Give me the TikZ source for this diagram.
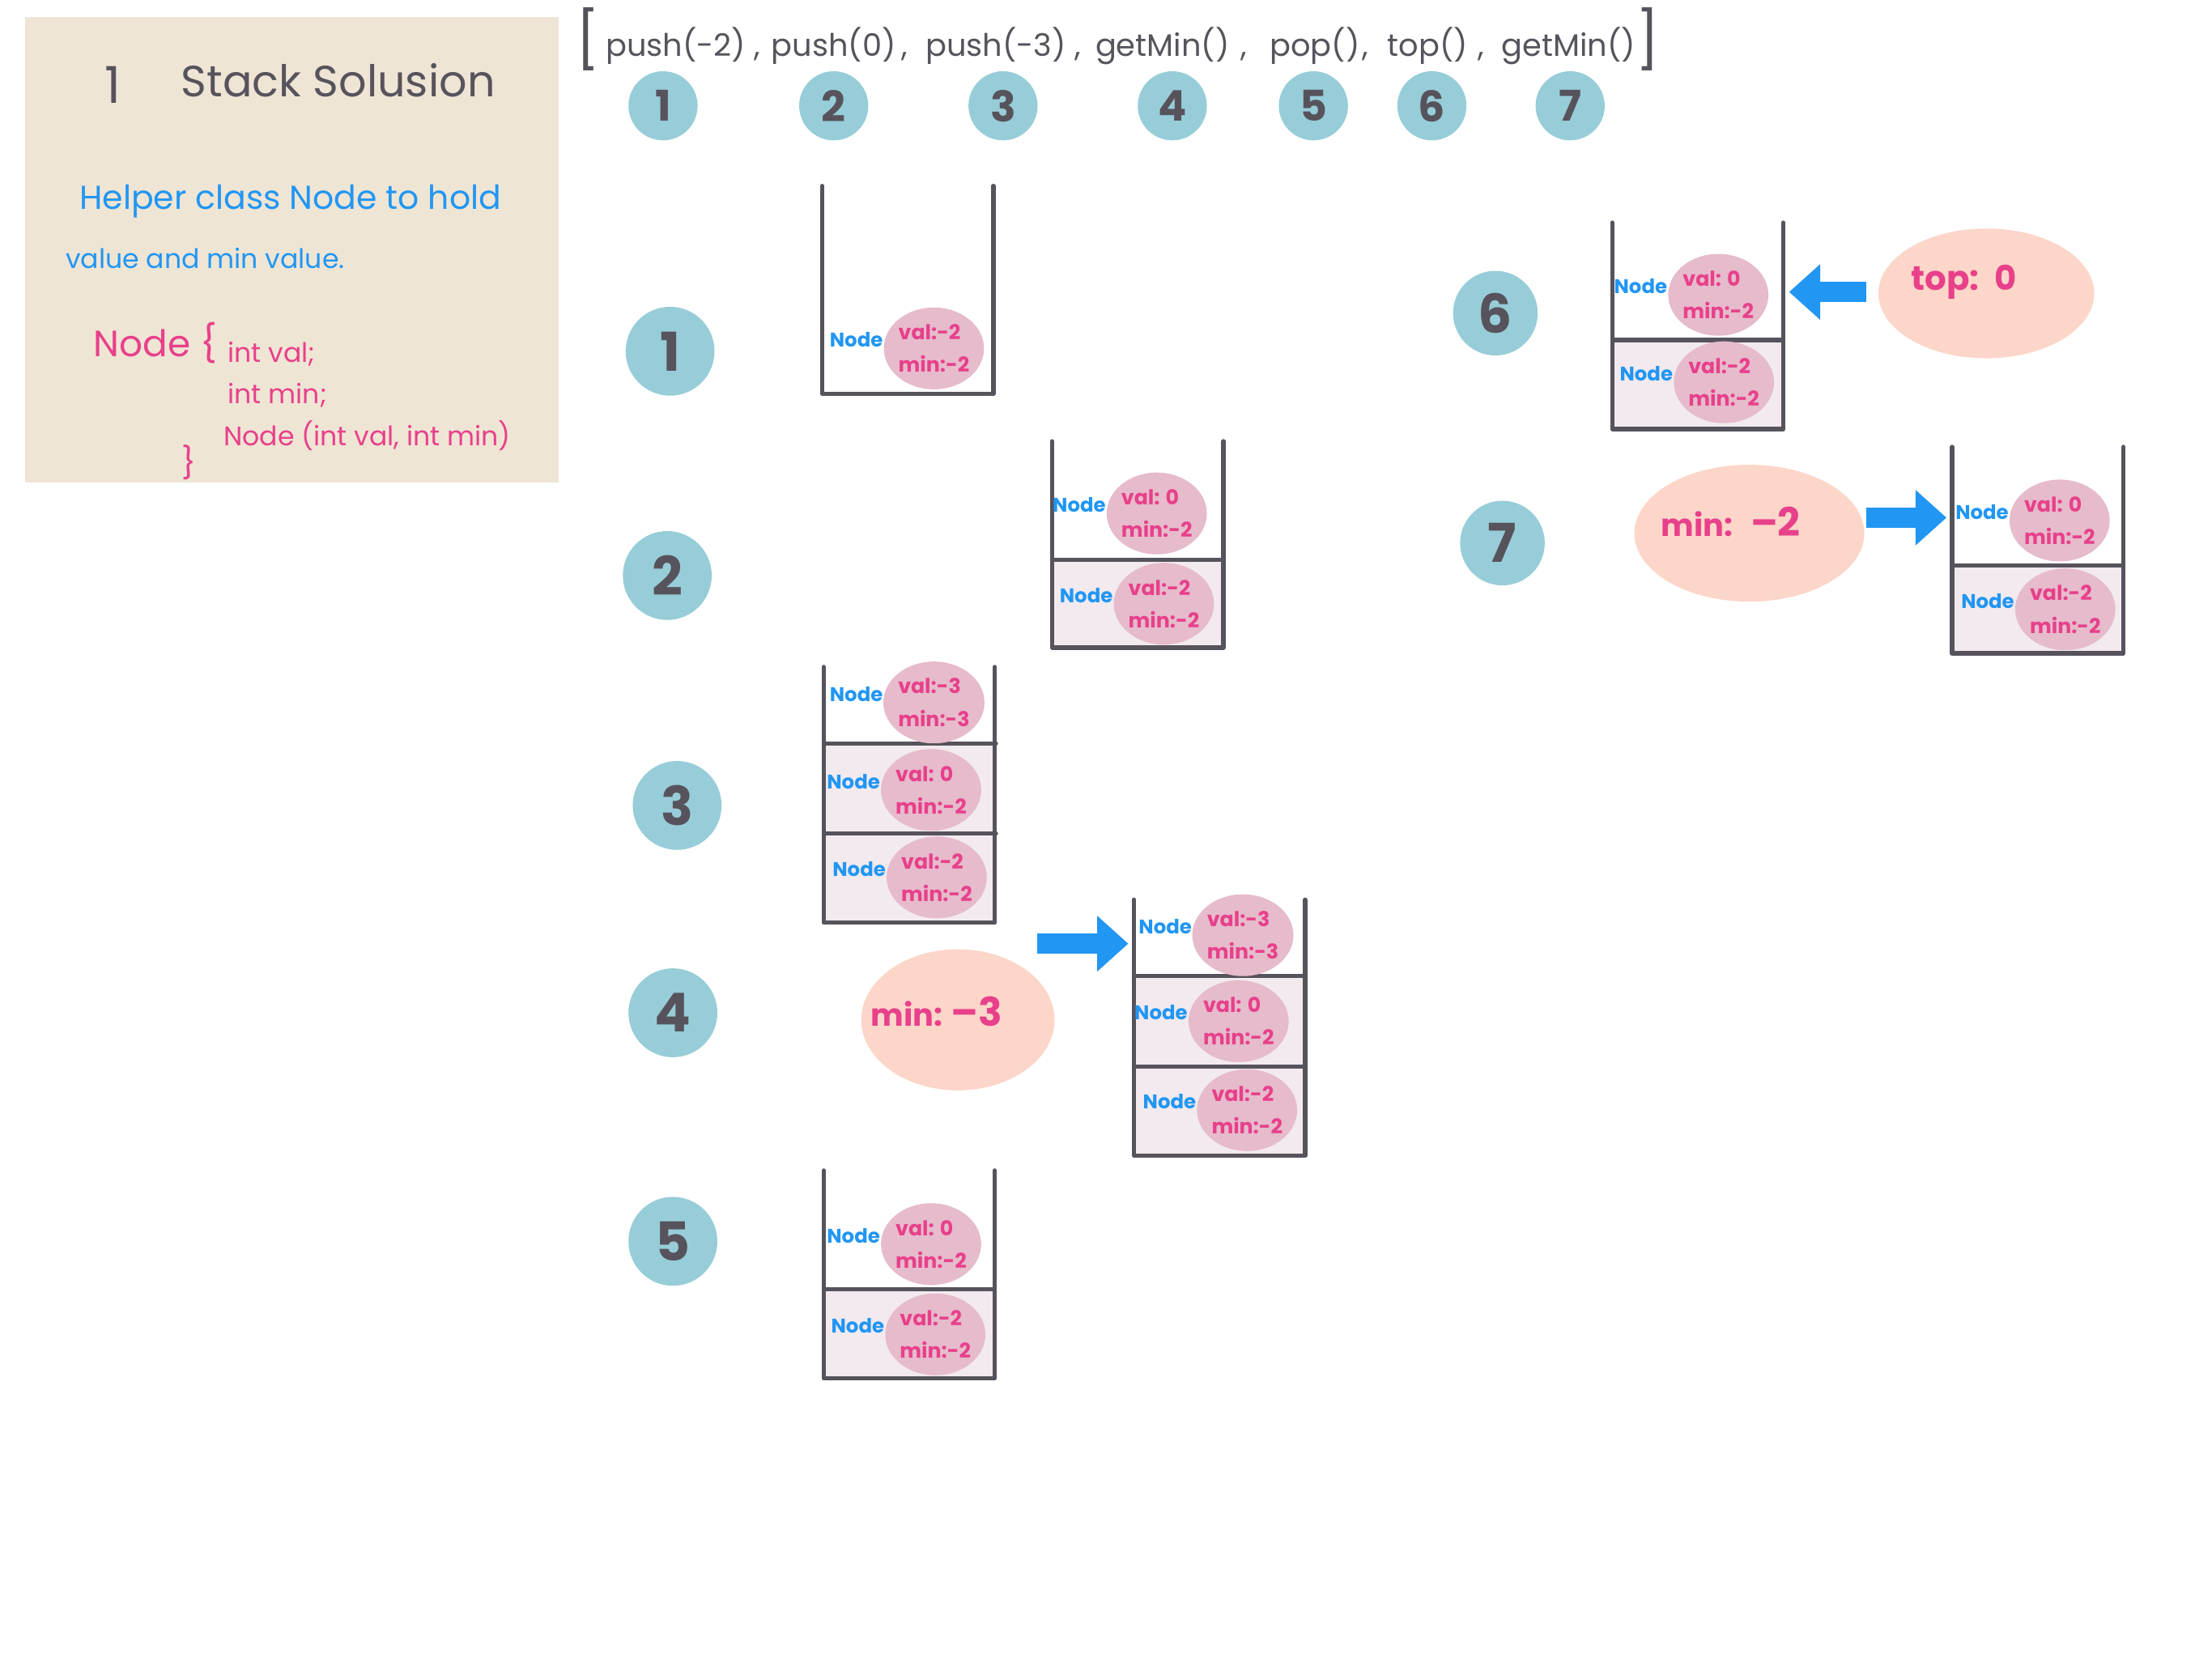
\documentclass[tikz,border=0pt]{standalone}
\usepackage{fontspec}
\setmainfont{Poppins}
\usetikzlibrary{shapes.geometric,arrows.meta}

\definecolor{inkgray}{HTML}{57535C}
\definecolor{notebg}{HTML}{EFE5D5}
\definecolor{numteal}{HTML}{97CDD8}
\definecolor{penblue}{HTML}{2196F3}
\definecolor{penpink}{HTML}{E8408A}
\definecolor{blobpink}{HTML}{E6BBCC}
\definecolor{cellshade}{HTML}{F2EAEE}
\definecolor{salmon}{HTML}{FCD6C9}

\tikzset{
    stackline/.style={line width=3pt, draw=inkgray, line cap=round, line join=round},
    stackarea/.style={inner sep=0pt, minimum width=121pt},
    blob/.style={ellipse, fill=blobpink, inner sep=0pt, minimum width=70pt, minimum height=58pt,
        text=penpink, align=left, font=\fontsize{14.5}{23}\selectfont\bfseries},
    nodetag/.style={text=penblue, inner sep=0pt, font=\fontsize{14}{14}\selectfont\bfseries},
    stepnum/.style={circle, fill=numteal, text=inkgray, inner sep=0pt, minimum size=49pt,
        font=\fontsize{30}{30}\selectfont\bfseries},
    bignum/.style={stepnum, minimum size=63pt, font=\fontsize{38}{38}\selectfont\bfseries},
    minbubble/.style={ellipse, fill=salmon, inner sep=0pt},
    bubbletext/.style={text=penpink, inner sep=0pt, font=\fontsize{22}{22}\selectfont\bfseries},
    calltext/.style={text=inkgray, anchor=base, inner sep=0pt, font=\fontsize{22}{22}\selectfont},
    bigarrow/.style={-{Triangle[length=22pt,width=38pt]}, line width=14pt, draw=penblue, shorten >=4pt},
}

% one entry of a stack: pink blob with its blue "Node" tag
\newcommand{\stackitem}[5]{%
    \node[blob] (#1) at (#2,#3) {val:#4\\min:#5};
    \node[nodetag] (#1t) at ({#2-55},{#3-6}) {Node};
}
% empty frame of a stack, open at the top
\newcommand{\stackframe}[4]{%
    \node[stackarea, minimum height={#4-#3}] (#1) at ({#2+60.5},{(#3+#4)/2}) {};
    \draw[stackline] (#1.north west) -- (#1.south west) -- (#1.south east) -- (#1.north east);
}

\begin{document}
\begin{tikzpicture}[x=1pt,y=-1pt]
    \useasboundingbox (0,0) rectangle (1568,1175);

    % note
    \fill[notebg] (18,12) rectangle (396,342);
    \node[text=inkgray, font=\fontsize{36}{36}\selectfont] (title1) at (80,60) {1};
    \node[text=inkgray, anchor=west, font=\fontsize{31}{31}\selectfont] (title) at (125,57) {Stack Solusion};
    \node[text=penblue, anchor=west, font=\fontsize{23.5}{23.5}\selectfont] (help1) at (53,143) {Helper class Node to hold};
    \node[text=penblue, anchor=west, font=\fontsize{19}{19}\selectfont] (help2) at (43,183) {value and min value.};
    \node[text=penpink, anchor=west, font=\fontsize{26}{26}\selectfont] (code0) at (63,243) {Node \{};
    \node[text=penpink, anchor=west, font=\fontsize{19}{19}\selectfont] (code1) at (158,251) {int val;};
    \node[text=penpink, anchor=west, font=\fontsize{19}{19}\selectfont] (code2) at (158,280) {int min;};
    \node[text=penpink, anchor=west, font=\fontsize{19}{19}\selectfont] (code3) at (155,309) {Node (int val, int min)};
    \node[text=penpink, font=\fontsize{22}{22}\selectfont] (code4) at (134,328) {\}};

    % calls
    \node[text=inkgray, font=\fontsize{40}{40}\selectfont] (lbr) at (417,28) {[};
    \node[text=inkgray, font=\fontsize{40}{40}\selectfont] (rbr) at (1168,28) {]};
    \foreach \x/\call [count=\i] in {479/push(-2), 591/push(0), 706/push(-3), 824/getMin(), 932/pop(), 1012/top(), 1112/getMin()}
        \node[calltext] (call\i) at (\x,40) {\call};
    \foreach \x [count=\i] in {537,641,764,882,968,1050}
        \node[calltext] (comma\i) at (\x,40) {,};
    \foreach \x [count=\i] in {470,591,711,831,931,1015,1113}
        \node[stepnum] (t\i) at (\x,75) {\i};

    % steps
    \node[bignum] (c1) at (475,249) {1};
    \node[bignum] (c2) at (473,408) {2};
    \node[bignum] (c3) at (480,571) {3};
    \node[bignum] (c4) at (477,718) {4};
    \node[bignum] (c5) at (477,880) {5};
    \node[bignum, minimum size=60pt] (c6) at (1060,222) {6};
    \node[bignum, minimum size=60pt] (c7) at (1065,385) {7};

    % shaded lower cells
    \fill[cellshade] (746,397) rectangle (867,459);
    \fill[cellshade] (584,527) rectangle (706,654);
    \fill[cellshade] (804,692) rectangle (925,819);
    \fill[cellshade] (584,914) rectangle (705,977);
    \fill[cellshade] (1143,241) rectangle (1264,304);
    \fill[cellshade] (1384,401) rectangle (1505,463);

    \stackframe{s1}{583}{132}{279}
    \stackframe{s2}{746}{313}{459}
    \stackframe{s3}{584}{473}{654}
    \stackframe{s4}{804}{638}{819}
    \stackframe{s5}{584}{830}{977}
    \stackframe{s6}{1143}{158}{304}
    \stackframe{s7}{1384}{317}{463}

    \draw[stackline] (746,397) -- (867,397);
    \draw[stackline] (584,527) -- (706,527);
    \draw[stackline] (584,591) -- (706,591);
    \draw[stackline] (804,692) -- (925,692);
    \draw[stackline] (804,756) -- (925,756);
    \draw[stackline] (584,914) -- (705,914);
    \draw[stackline] (1143,241) -- (1264,241);
    \draw[stackline] (1384,401) -- (1505,401);

    \stackitem{s1a}{662}{247}{-2}{-2}
    \stackitem{s2a}{820}{364}{ 0}{-2}
    \stackitem{s2b}{825}{428}{-2}{-2}
    \stackitem{s3a}{662}{498}{-3}{-3}
    \stackitem{s3b}{660}{560}{ 0}{-2}
    \stackitem{s3c}{664}{622}{-2}{-2}
    \stackitem{s4a}{881}{663}{-3}{-3}
    \stackitem{s4b}{878}{724}{ 0}{-2}
    \stackitem{s4c}{884}{787}{-2}{-2}
    \stackitem{s5a}{660}{882}{ 0}{-2}
    \stackitem{s5b}{663}{946}{-2}{-2}
    \stackitem{s6a}{1218}{209}{ 0}{-2}
    \stackitem{s6b}{1222}{271}{-2}{-2}
    \stackitem{s7a}{1460}{369}{ 0}{-2}
    \stackitem{s7b}{1464}{432}{-2}{-2}

    % results
    \node[minbubble, minimum width=137pt, minimum height=100pt] (min4) at (679,723) {};
    \node[bubbletext] (min4t) at (664,717) {min: {\fontsize{28}{28}\selectfont –3}};
    \node[minbubble, minimum width=153pt, minimum height=92pt] (top6) at (1408,208) {};
    \node[bubbletext, font=\fontsize{24}{24}\selectfont\bfseries] (top6t) at (1392,200) {top:\, 0};
    \node[minbubble, minimum width=163pt, minimum height=97pt] (min7) at (1240,378) {};
    \node[bubbletext] (min7t) at (1227,370) {min:\; {\fontsize{28}{28}\selectfont –2}};

    \coordinate (a4) at (735,669);
    \coordinate (a6) at (1323,207);
    \coordinate (a7) at (1323,367);
    \draw[bigarrow] (a4) -- (a4 -| s4.west);
    \draw[bigarrow] (a6) -- (a6 -| s6.east);
    \draw[bigarrow] (a7) -- (a7 -| s7.west);
\end{tikzpicture}
\end{document}
